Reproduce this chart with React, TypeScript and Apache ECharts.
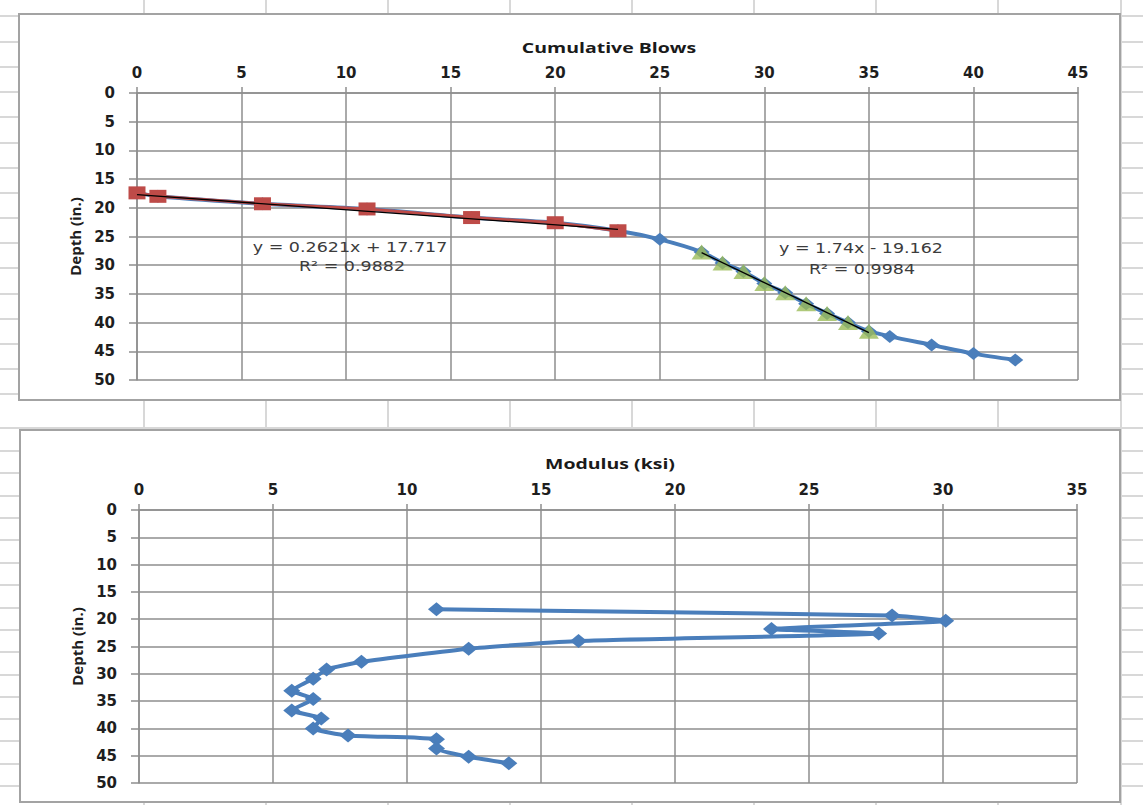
import { useEffect, useRef } from "react";
import * as echarts from "echarts";

// ---------- Top chart: Cumulative Blows vs Depth ----------
const blowsAll = [0, 1, 6, 11, 16, 20, 23, 25, 27, 28, 29, 30, 31, 32, 33, 34, 35, 36, 38, 40, 42];
const depthAll = [17.4, 18.0, 19.3, 20.2, 21.7, 22.6, 24.0, 25.5, 27.7, 29.6, 31.1, 33.2, 34.8, 36.7, 38.4, 40.0, 41.5, 42.4, 43.9, 45.4, 46.5];
const blowsRed = [0, 1, 6, 11, 16, 20, 23];
const depthRed = [17.4, 18.0, 19.3, 20.2, 21.7, 22.6, 24.0];
const blowsGreen = [27, 28, 29, 30, 31, 32, 33, 34, 35];
const depthGreen = [27.7, 29.6, 31.1, 33.2, 34.8, 36.7, 38.4, 40.0, 41.5];
const trendRed = [0.2621, 17.717]; // slope, intercept
const trendRedRange = [0, 23];
const trendGreen = [1.74, -19.162];
const trendGreenRange = [27, 35];
const eqRed = ["y = 0.2621x + 17.717", "R² = 0.9882"];
const eqGreen = ["y = 1.74x - 19.162", "R² = 0.9984"];

// ---------- Bottom chart: Modulus vs Depth ----------
const modulus = [11.1, 28.1, 30.1, 23.6, 27.6, 16.4, 12.3, 8.3, 7.0, 6.5, 5.7, 6.5, 5.7, 6.8, 6.5, 7.8, 11.1, 11.1, 12.3, 13.8];
const modDepth = [18.2, 19.3, 20.3, 21.8, 22.6, 24.0, 25.4, 27.8, 29.2, 30.9, 33.1, 34.6, 36.7, 38.2, 40.0, 41.3, 42.0, 43.7, 45.2, 46.4];

// ---------- Axes (min, max, interval) and titles ----------
const blowsAxis = [0, 45, 5];
const modAxis = [0, 35, 5];
const depthAxis = [0, 50, 5];
const titles = ["Cumulative Blows", "Modulus (ksi)"];
const depthName = "Depth (in.)";

// spreadsheet background decoration
const sheetCols = [144, 266, 388, 510, 632, 754, 876, 998, 1121];
const sheetRows = [16, 42, 67, 92, 117, 143, 168, 193, 218, 243, 268, 294, 319, 344, 369, 394, 428, 451, 473, 496, 518, 540, 563, 585, 608, 630, 652, 675, 697, 719, 741, 764, 786];

const zip = (xs: number[], ys: number[]) => xs.map((x, i) => [x, ys[i]]);
const trendPts = (c: number[], r: number[]) => r.map((x) => [x, c[0] * x + c[1]]);

const BLUE = "#4a7ebb";
const RED = "#be4b48";
const GREEN = "#9bbb59";
const GRID = "#8e8e8e";
const TICK_FONT = { fontFamily: "DejaVu Sans", fontWeight: "bold" as const, fontSize: 15, color: "#1e1e1e" };

function valueAxisX(gridIndex: number, ax: number[]) {
  return {
    type: "value",
    gridIndex,
    position: "top",
    min: ax[0],
    max: ax[1],
    interval: ax[2],
    axisLine: { show: true, onZero: false, lineStyle: { color: GRID, width: 1.5 } },
    axisTick: { show: true, length: 6, lineStyle: { color: GRID, width: 1.5 } },
    splitLine: { show: true, lineStyle: { color: GRID, width: 1.5 } },
    axisLabel: { ...TICK_FONT, margin: 13 },
  };
}
function valueAxisY(gridIndex: number, ax: number[]) {
  return {
    type: "value",
    gridIndex,
    inverse: true,
    min: ax[0],
    max: ax[1],
    interval: ax[2],
    name: depthName,
    nameLocation: "middle",
    nameRotate: 90,
    nameGap: 55,
    nameTextStyle: { fontFamily: "Open Sans", fontWeight: "bold", fontSize: 15, color: "#1e1e1e" },
    axisLine: { show: true, onZero: false, lineStyle: { color: GRID, width: 1.5 } },
    axisTick: { show: true, length: 8, lineStyle: { color: GRID, width: 1.5 } },
    splitLine: { show: true, lineStyle: { color: GRID, width: 1.5 } },
    axisLabel: { ...TICK_FONT, margin: 22 },
  };
}

function textEl(text: string, x: number, y: number, font: string, fill: string, scaleX: number) {
  return {
    type: "text",
    x,
    y,
    scaleX,
    z: 50,
    silent: true,
    style: { text, font, fill, textAlign: "center", textVerticalAlign: "middle", align: "center", verticalAlign: "middle" },
  };
}

export default function App() {
  const ref = useRef<HTMLDivElement>(null);
  useEffect(() => {
    if (!ref.current) return;
    const chart = echarts.init(ref.current, null, { renderer: "svg" });

    const bg: any[] = [];
    sheetCols.forEach((x) =>
      bg.push({ type: "line", z: -20, silent: true, shape: { x1: x, y1: 0, x2: x, y2: 805 }, style: { stroke: "#d8d8d8", lineWidth: 2 } })
    );
    sheetRows.forEach((y) =>
      bg.push({ type: "line", z: -20, silent: true, shape: { x1: 0, y1: y, x2: 1143, y2: y }, style: { stroke: "#d8d8d8", lineWidth: 2 } })
    );
    bg.push({ type: "rect", z: -10, silent: true, shape: { x: 19, y: 14, width: 1101, height: 386 }, style: { fill: "#ffffff", stroke: "#a3a3a3", lineWidth: 2 } });
    bg.push({ type: "rect", z: -10, silent: true, shape: { x: 20, y: 430, width: 1100, height: 372 }, style: { fill: "#ffffff", stroke: "#a3a3a3", lineWidth: 2 } });

    const titleFont = "bold 15px 'Open Sans'";
    const eqFont = "14px 'DejaVu Sans'";
    const texts = [
      textEl(titles[0], 609, 47, titleFont, "#1a1a1a", 1.3),
      textEl(titles[1], 610, 463, titleFont, "#1a1a1a", 1.3),
      textEl(eqRed[0], 350, 247, eqFont, "#3c3c3c", 1.25),
      textEl(eqRed[1], 352, 266, eqFont, "#3c3c3c", 1.25),
      textEl(eqGreen[0], 861, 248, eqFont, "#3c3c3c", 1.25),
      textEl(eqGreen[1], 862, 269, eqFont, "#3c3c3c", 1.25),
    ];

    chart.setOption({
      animation: false,
      backgroundColor: "#ffffff",
      grid: [
        { left: 137, top: 93, width: 941, height: 287 },
        { left: 139, top: 510, width: 938, height: 273 },
      ],
      xAxis: [valueAxisX(0, blowsAxis), valueAxisX(1, modAxis)],
      yAxis: [valueAxisY(0, depthAxis), valueAxisY(1, depthAxis)],
      graphic: [...bg, ...texts],
      series: [
        {
          type: "line",
          xAxisIndex: 0,
          yAxisIndex: 0,
          data: zip(blowsAll, depthAll),
          smooth: 0.3,
          symbol: "diamond",
          symbolSize: [16, 13],
          lineStyle: { color: BLUE, width: 4 },
          itemStyle: { color: BLUE },
          z: 3,
        },
        {
          type: "line",
          xAxisIndex: 0,
          yAxisIndex: 0,
          data: zip(blowsRed, depthRed),
          symbol: "rect",
          symbolSize: [17, 13],
          lineStyle: { color: RED, width: 3 },
          itemStyle: { color: RED },
          z: 4,
        },
        {
          type: "scatter",
          xAxisIndex: 0,
          yAxisIndex: 0,
          data: zip(blowsGreen, depthGreen),
          symbol: "triangle",
          symbolSize: [20, 15],
          itemStyle: { color: GREEN },
          z: 5,
        },
        {
          type: "line",
          xAxisIndex: 0,
          yAxisIndex: 0,
          data: trendPts(trendRed, trendRedRange),
          symbol: "none",
          lineStyle: { color: "#000000", width: 1.3 },
          z: 6,
        },
        {
          type: "line",
          xAxisIndex: 0,
          yAxisIndex: 0,
          data: trendPts(trendGreen, trendGreenRange),
          symbol: "none",
          lineStyle: { color: "#000000", width: 1.3 },
          z: 6,
        },
        {
          type: "line",
          xAxisIndex: 1,
          yAxisIndex: 1,
          data: zip(modulus, modDepth),
          smooth: 0.15,
          symbol: "diamond",
          symbolSize: [17, 14],
          lineStyle: { color: BLUE, width: 4 },
          itemStyle: { color: BLUE },
          z: 3,
        },
      ],
    });
    return () => chart.dispose();
  }, []);
  return <div ref={ref} style={{ position: "fixed", left: 0, top: 0, width: 1143, height: 805 }} />;
}
